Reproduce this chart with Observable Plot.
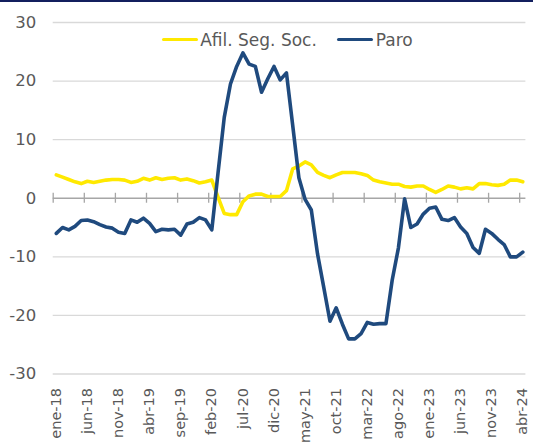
<!DOCTYPE html>
<html>
<head>
<meta charset="utf-8">
<script src="https://cdn.jsdelivr.net/npm/d3@7"></script>
<script src="https://cdn.jsdelivr.net/npm/@observablehq/plot@0.6"></script>
<style>
  html, body { margin: 0; padding: 0; background: #fff; }
  #wrap { position: relative; width: 533px; height: 446px; overflow: hidden; font-family: "DejaVu Sans", Verdana, sans-serif; }
  #bar { height: 2px; background: #131f5e; }
  .leg { position: absolute; top: 29.7px; height: 20px; display: flex; align-items: center; font-size: 17px; color: #595959; white-space: nowrap; }
  .sw { width: 36px; height: 3.6px; border-radius: 2px; margin-right: 2.5px; }
</style>
</head>
<body>
<div id="wrap">
  <div id="bar"></div>
  <div id="chart"></div>
  <div class="leg" style="left:161.7px"><div class="sw" style="background:#ffe900"></div>Afil. Seg. Soc.</div>
  <div class="leg" style="left:337.3px"><div class="sw" style="background:#1f4a7e"></div>Paro</div>
</div>
<script>
// Monthly series, ene-18 .. abr-24 (76 months)
const afil = [
  4.0, 3.6, 3.2, 2.8, 2.5, 2.9, 2.7, 2.9, 3.1, 3.2, 3.2, 3.1,
  2.7, 2.9, 3.4, 3.1, 3.5, 3.2, 3.4, 3.5, 3.1, 3.3, 3.0, 2.6,
  2.8, 3.1, 0.2, -2.6, -2.8, -2.8, -0.6, 0.4, 0.7, 0.7, 0.3, 0.3,
  0.3, 1.3, 5.0, 5.5, 6.2, 5.7, 4.4, 3.9, 3.5, 4.0, 4.4, 4.4,
  4.4, 4.2, 3.9, 3.1, 2.8, 2.6, 2.4, 2.4, 2.0, 1.9, 2.1, 2.1,
  1.5, 1.0, 1.5, 2.1, 1.9, 1.6, 1.8, 1.6, 2.5, 2.5, 2.3, 2.2,
  2.4, 3.1, 3.1, 2.8
];
const paro = [
  -6.0, -5.0, -5.4, -4.8, -3.8, -3.7, -4.0, -4.5, -4.9, -5.1, -5.8, -6.0,
  -3.7, -4.1, -3.4, -4.3, -5.7, -5.3, -5.4, -5.3, -6.3, -4.4, -4.1, -3.3,
  -3.7, -5.4, 4.3, 13.8, 19.5, 22.5, 24.8, 22.9, 22.5, 18.1, 20.4, 22.5,
  20.2, 21.4, 12.5, 3.5, -0.2, -2.0, -9.5, -15.2, -21.0, -18.7, -21.5, -24.0,
  -24.0, -23.1, -21.2, -21.5, -21.4, -21.4, -14.0, -8.5, -0.1, -5.0, -4.4, -2.7,
  -1.7, -1.5, -3.6, -3.8, -3.3, -4.9, -6.0, -8.4, -9.4, -5.3, -6.0, -7.0,
  -7.9, -10.0, -10.0, -9.2
];
const tickLabels = ["ene-18","jun-18","nov-18","abr-19","sep-19","feb-20","jul-20","dic-20",
  "may-21","oct-21","mar-22","ago-22","ene-23","jun-23","nov-23","abr-24"];
const tickEvery = 5;
const yTicks = [-30, -20, -10, 0, 10, 20, 30];

const rows = afil.map((a, i) => ({i, afil: a, paro: paro[i]}));
const tickIdx = tickLabels.map((_, k) => k * tickEvery);
const gridVals = yTicks.filter(v => v !== 0);

const chart = Plot.plot({
  width: 533,
  height: 444,
  marginLeft: 52.7,
  marginRight: 7.6,
  marginTop: 20,
  marginBottom: 72.5,
  style: {fontFamily: "DejaVu Sans, Verdana, sans-serif", color: "#595959", background: "#fff"},
  x: {type: "linear", domain: [-0.5, afil.length - 0.5]},
  y: {domain: [-30, 30]},
  marks: [
    Plot.ruleY(gridVals, {stroke: "#d9d9d9", strokeWidth: 1.4}),
    Plot.ruleY([0], {stroke: "#a6a6a6", strokeWidth: 1.5}),
    Plot.ruleX(tickIdx, {x: d => d - 0.5, y1: -0.85, y2: 0.85, stroke: "#a6a6a6", strokeWidth: 1.3}),
    Plot.lineY(rows, {x: "i", y: "afil", stroke: "#ffe900", strokeWidth: 3.6, strokeLinejoin: "round"}),
    Plot.lineY(rows, {x: "i", y: "paro", stroke: "#1f4a7e", strokeWidth: 3.6, strokeLinejoin: "round"}),
    Plot.axisY(yTicks, {tickSize: 0, tickPadding: 17, fontSize: 16.5, label: null, fill: "#595959",
      tickFormat: d => String(d)}),
    Plot.axisX(tickIdx, {tickSize: 0, tickPadding: 14, tickRotate: -90, fontSize: 14.5, label: null, fill: "#595959",
      tickFormat: d => tickLabels[d / tickEvery]})
  ]
});
document.getElementById("chart").appendChild(chart);
</script>
</body>
</html>
